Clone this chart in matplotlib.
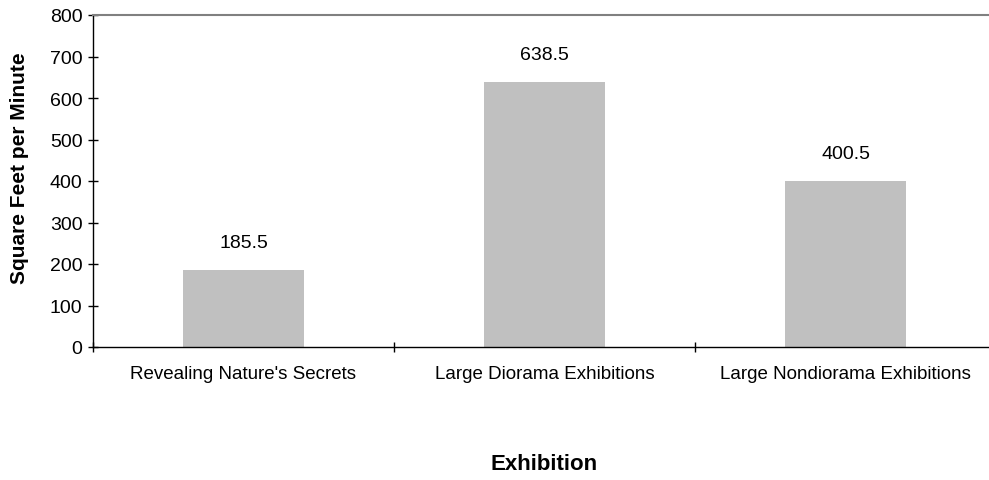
import matplotlib.pyplot as plt

plt.rcParams['font.family'] = ['Liberation Sans', 'DejaVu Sans']

# Exhibition data
exhibitions = ["Revealing Nature's Secrets", "Large Diorama Exhibitions",
               "Large Nondiorama Exhibitions"]
sq_ft_per_min = [185.5, 638.5, 400.5]
y_ticks = [0, 100, 200, 300, 400, 500, 600, 700, 800]

fig = plt.figure(figsize=(9.89, 4.81), dpi=100)
# plot area runs a little past the right edge, as in the original
ax = fig.add_axes([93 / 989, 133 / 481, 903 / 989, 332 / 481])

x = range(len(exhibitions))
ax.bar(x, sq_ft_per_min, width=0.4, color='#C0C0C0', zorder=2)

# value labels above the bars
for xi, v in zip(x, sq_ft_per_min):
    ax.annotate(f"{v}", (xi, v), xytext=(0, 19.5), textcoords='offset points',
                ha='center', va='center', fontsize=14)

ax.set_xlim(-0.5, len(exhibitions) - 0.5)
ax.set_ylim(0, 800)
ax.set_yticks(y_ticks)
ax.tick_params(axis='y', direction='inout', length=7, width=1, labelsize=14, pad=4)

# boundaries get the tick marks, centers get the labels
ax.set_xticks([i - 0.5 for i in range(len(exhibitions) + 1)])
ax.set_xticklabels([])
ax.set_xticks(list(x), minor=True)
ax.set_xticklabels(exhibitions, minor=True)
ax.tick_params(axis='x', which='major', direction='inout', length=7, width=1)
ax.tick_params(axis='x', which='minor', length=0, labelsize=13.5, pad=13)

ax.spines['right'].set_visible(False)
ax.spines['top'].set_color('#808080')
ax.spines['top'].set_linewidth(1.5)
ax.spines['left'].set_linewidth(1)
ax.spines['bottom'].set_linewidth(1)

fig.text(20 / 989, (481 - 168) / 481, 'Square Feet per Minute', rotation=90,
         ha='center', va='center', fontsize=15, fontweight='bold')
fig.text(544 / 989, (481 - 465) / 481, 'Exhibition',
         ha='center', va='center', fontsize=16, fontweight='bold')

plt.savefig('out.png', dpi=100)
